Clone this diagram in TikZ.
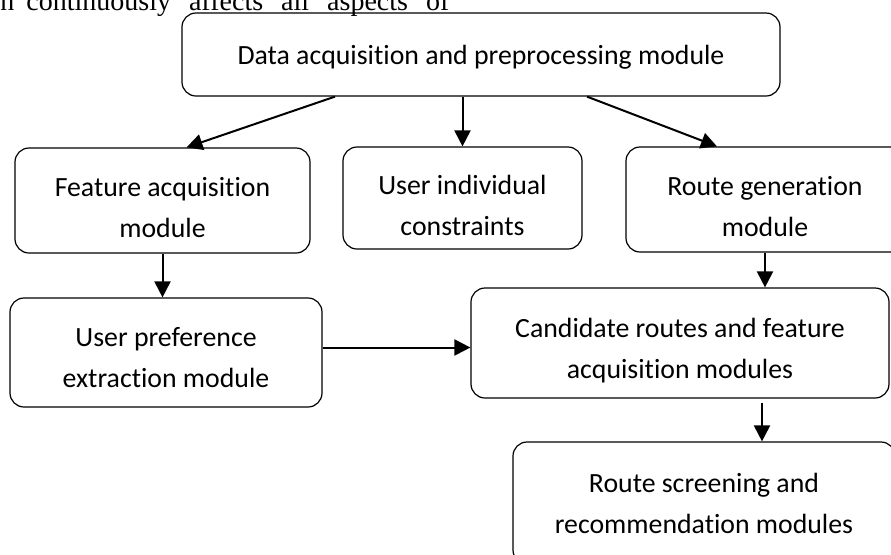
\documentclass[tikz,border=0pt]{standalone}
\usepackage{fontspec}
\setmainfont{Carlito}[Ligatures=NoCommon]
\newfontfamily\pagefont{Liberation Serif}
\usepackage{tikz}
\usetikzlibrary{arrows.meta}

% taller first line, so the text sits a little lower in its box
\newcommand{\topgap}[1]{\rule{0pt}{#1}}

\tikzset{
  module/.style={draw,line width=0.6pt,rounded corners=7pt,align=center,
    font=\fontsize{13.9}{20.5}\selectfont},
  flow/.style={line width=1pt,-{Triangle[length=8pt,width=8pt]}}
}

\begin{document}
\begin{tikzpicture}[x=0.5pt,y=-0.5pt]
    \useasboundingbox (0,0) rectangle (891,554);
    \clip (0,0) rectangle (891,554);
    % line of the page that the figure cuts into
    \node[anchor=base west,inner sep=0pt,font=\pagefont\fontsize{14}{16}\selectfont]
      (pagetext) at (0,10) {n\hspace{6pt}continuously\hspace{9pt}affects\hspace{9pt}all\hspace{9pt}aspects\hspace{9pt}of};

    \node[module,minimum width=299pt,minimum height=41.5pt] (data) at (481,54.5) {\topgap{12.5pt}Data acquisition and preprocessing module};
    \node[module,minimum width=147.5pt,minimum height=52.5pt] (feat) at (162.5,200.5) {\topgap{17pt}Feature acquisition\\module};
    \node[module,minimum width=119.5pt,minimum height=51pt] (indiv) at (462.5,198) {\topgap{17pt}User individual\\constraints};
    \node[module,minimum width=139pt,minimum height=52.5pt] (routegen) at (765,199.5) {\topgap{16.5pt}Route generation\\module};
    \node[module,minimum width=156pt,minimum height=54.5pt] (pref) at (166,352.5) {\topgap{14.5pt}User preference\\extraction module};
    \node[module,minimum width=209pt,minimum height=55pt] (cand) at (680,343) {\topgap{17pt}Candidate routes and feature\\acquisition modules};
    \node[module,minimum width=191pt,minimum height=61pt] (screen) at (704,503) {Route screening and\\recommendation modules};

    \coordinate (prefout) at ([yshift=2.5pt]pref.east);
    \coordinate (candout) at ([xshift=41pt,yshift=-2pt]cand.south);

    \draw[flow] ([xshift=-73pt]data.south) -- ([xshift=12pt]feat.north);
    \draw[flow] (indiv.north |- data.south) -- (indiv.north);
    \draw[flow] ([xshift=53pt]data.south) -- ([xshift=-24pt]routegen.north);
    \draw[flow] (feat.south) -- (feat.south |- pref.north);
    \draw[flow] (prefout) -- (prefout -| cand.west);
    \draw[flow] (routegen.south) -- (routegen.south |- cand.north);
    \draw[flow] (candout) -- (candout |- screen.north);
  \end{tikzpicture}
\end{document}
